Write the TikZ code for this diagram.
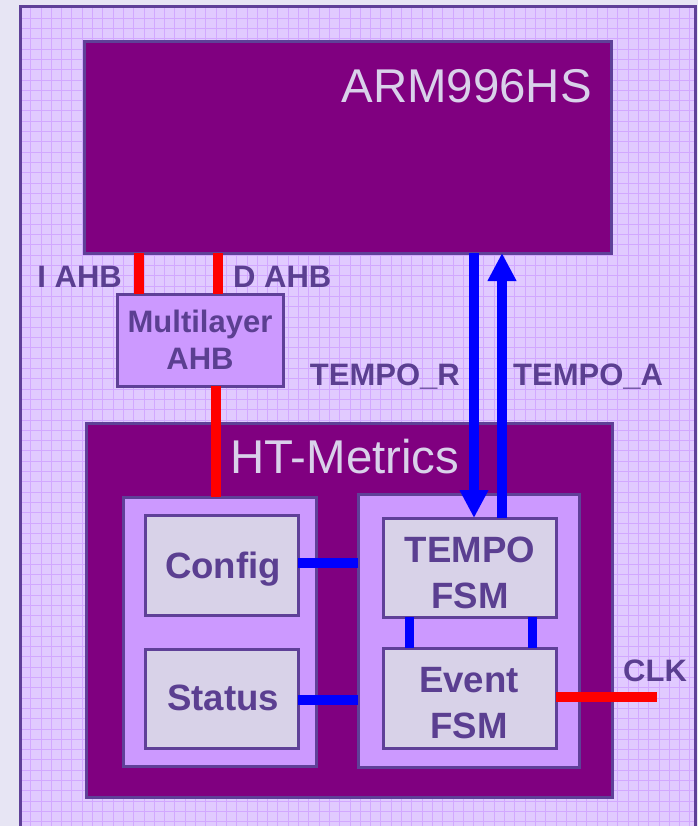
\documentclass[tikz,border=0pt]{standalone}
\usepackage{fontspec}
\setmainfont{Liberation Sans}
\usetikzlibrary{arrows.meta}
\definecolor{bgout}{HTML}{E7E5F4}
\definecolor{gridfill}{HTML}{E1CAFF}
\definecolor{gridline}{HTML}{D2A8FF}
\definecolor{edge}{HTML}{5F4098}
\definecolor{plum}{HTML}{800080}
\definecolor{lilac}{HTML}{CC99FF}
\definecolor{pale}{HTML}{D8D2E8}
\definecolor{titletext}{HTML}{D9D1EA}
\definecolor{labeltext}{HTML}{5B3F91}
\definecolor{busred}{HTML}{FF0000}
\definecolor{busblue}{HTML}{0000FF}
\newcommand\lblfont{\fontsize{31}{37}\selectfont\bfseries}
\newcommand\boxfont{\fontsize{36.6}{46}\selectfont\bfseries}
\newcommand\ttlfont{\fontsize{47.4}{50}\selectfont}
\begin{document}
\begin{tikzpicture}[x=1pt,y=-1pt,
  blk/.style={draw=edge, line width=3pt, inner sep=0pt, outer sep=0pt},
  darkbox/.style={blk, fill=plum},
  lightbox/.style={blk, fill=lilac, text=labeltext, align=center},
  palebox/.style={blk, fill=pale, text=labeltext, align=center, font=\boxfont},
  boxtext/.style={text=labeltext, align=center, font=\boxfont, inner sep=0pt},
  redbus/.style={draw=busred, line width=10pt},
  bluebus/.style={draw=busblue, line width=10pt},
  thinblue/.style={draw=busblue, line width=9pt},
  sig/.style={text=labeltext, font=\lblfont, inner sep=0pt},
  ttl/.style={text=titletext, font=\ttlfont, inner sep=0pt},
  bigtip/.style={-{Triangle[width=27pt,length=28pt]}}
]
\useasboundingbox (0,0) rectangle (698,826);
\fill[bgout] (0,0) rectangle (698,826);
% outer frame with grid
\fill[gridfill] (20,7) rectangle (696,840);
\begin{scope}
\clip (20,7) rectangle (696,840);
\foreach \x in {30.7,41.0,...,700} \draw[gridline, line width=1pt] (\x,0) -- (\x,840);
\foreach \y in {18.3,28.6,...,840} \draw[gridline, line width=1pt] (0,\y) -- (700,\y);
\end{scope}
\draw[edge, line width=3pt] (20,7) rectangle (695.5,840);

% blocks
\node[darkbox, minimum width=527pt, minimum height=211pt] (arm) at (347.5,147.5) {};
\node[ttl, anchor=base east] (armt) at (592,103) {ARM996HS};
\node[lightbox, font=\lblfont, minimum width=166pt, minimum height=92pt] (ml) at (200,340) {Multilayer\\AHB};
\node[darkbox, minimum width=526pt, minimum height=374pt] (ht) at (349,610) {};
\node[ttl, anchor=base west] (htt) at (230,473) {HT-Metrics};
\node[lightbox, minimum width=193pt, minimum height=269pt] (lc) at (219.5,631.5) {};
\node[lightbox, minimum width=221pt, minimum height=273pt] (rc) at (468.5,630.5) {};
\node[palebox, minimum width=153pt, minimum height=100pt] (cfg) at (221.5,565) {};
\node[boxtext, anchor=base] (cfgt) at (223,578) {Config};
\node[palebox, minimum width=153pt, minimum height=99pt] (st) at (221.5,698.5) {};
\node[boxtext, anchor=base] (stt) at (223,710) {Status};
\node[palebox, minimum width=173pt, minimum height=99pt] (tf) at (469.5,567.5) {};
\node[boxtext, anchor=base] (tft1) at (470,562) {TEMPO};
\node[boxtext, anchor=base] (tft2) at (470,608) {FSM};
\node[palebox, minimum width=173pt, minimum height=100pt] (ef) at (469.5,698) {};
\node[boxtext, anchor=base] (eft1) at (469,692) {Event};
\node[boxtext, anchor=base] (eft2) at (469,738) {FSM};

% connector x positions
\coordinate (xi) at (139,0);
\coordinate (xd) at (218,0);
\coordinate (xm) at (216,0);
\coordinate (xr) at (474,0);
\coordinate (xa) at (502,0);
\coordinate (xl1) at (409,0);
\coordinate (xl2) at (532,0);
\coordinate (clkend) at (657,697);

% red buses
\draw[redbus] (arm.south -| xi) -- (ml.north -| xi);
\draw[redbus] (arm.south -| xd) -- (ml.north -| xd);
\draw[redbus] (ml.south -| xm) -- (lc.north -| xm);
\draw[redbus] (ef.east |- clkend) -- (clkend);

% blue buses
\draw[bluebus, bigtip] (arm.south -| xr) -- (tf.north -| xr);
\draw[bluebus, bigtip] (tf.north -| xa) -- (arm.south -| xa);
\draw[bluebus] (cfg.east |- 0,563) -- (rc.west |- 0,563);
\draw[bluebus] (st.east |- 0,700) -- (rc.west |- 0,700);
\draw[thinblue] (tf.south -| xl1) -- (ef.north -| xl1);
\draw[thinblue] (tf.south -| xl2) -- (ef.north -| xl2);

% signal labels
\node[sig, anchor=base east] (liahb) at (122,287) {I AHB};
\node[sig, anchor=base west] (ldahb) at (233,287) {D AHB};
\node[sig, anchor=base east] (ltr) at (460,385) {TEMPO\_R};
\node[sig, anchor=base west] (lta) at (513,385) {TEMPO\_A};
\node[sig, anchor=base west] (lclk) at (623,681) {CLK};
\end{tikzpicture}
\end{document}
